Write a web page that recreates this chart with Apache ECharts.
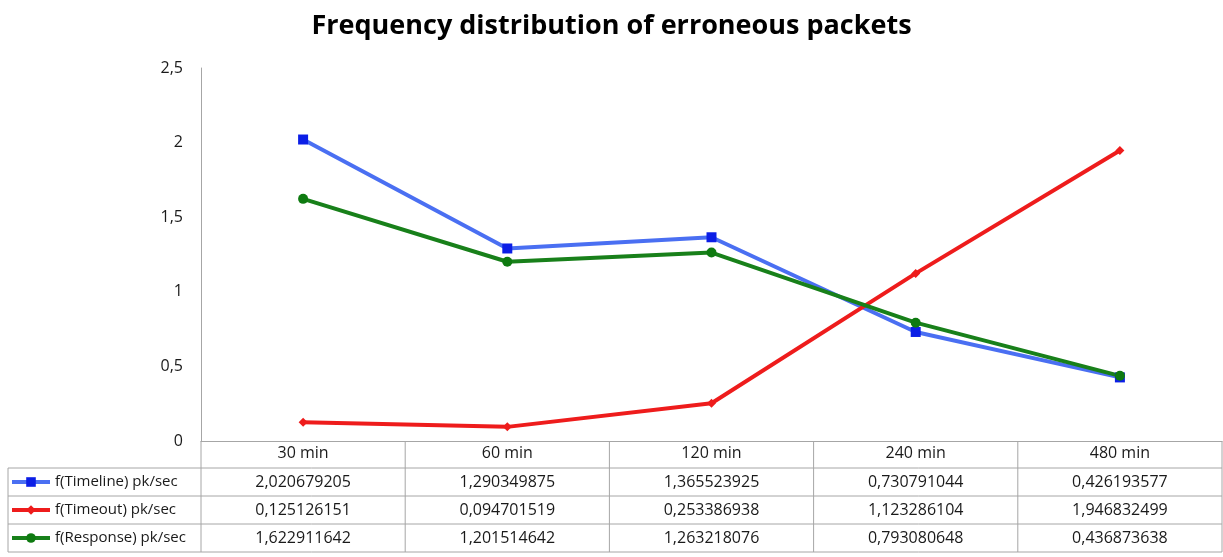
<!DOCTYPE html>
<html>
<head>
<meta charset="utf-8">
<script src="https://cdn.jsdelivr.net/npm/echarts@6/dist/echarts.min.js"></script>
<style>
  html, body { margin: 0; padding: 0; background: #fff; }
  #chart { width: 1223px; height: 557px; }
</style>
</head>
<body>
<div id="chart"></div>
<script>
var categories = ['30 min', '60 min', '120 min', '240 min', '480 min'];
var timeline = [2.020679205, 1.290349875, 1.365523925, 0.730791044, 0.426193577];
var timeout = [0.125126151, 0.094701519, 0.253386938, 1.123286104, 1.946832499];
var response = [1.622911642, 1.201514642, 1.263218076, 0.793080648, 0.436873638];
var seriesNames = ['f(Timeline) pk/sec', 'f(Timeout) pk/sec', 'f(Response) pk/sec'];

// table geometry
var gLeft = 201, gRight = 1222, gTop = 68, gBottom = 441;
var headH = 27, rowH = 28, tableLeft = 8;
var font = '"Open Sans", "Liberation Sans", sans-serif';
var grey = '#a6a6a6';
var fs = 16;

function fmt(v) {
  return String(v).replace('.', ',');
}

var chart = echarts.init(document.getElementById('chart'));

// table borders
var lines = [];
var tableBottom = gBottom + headH + 3 * rowH;
for (var r = 0; r <= 3; r++) {
  var y = gBottom + headH + r * rowH;
  lines.push({ type: 'line', shape: { x1: tableLeft, y1: y, x2: gRight, y2: y }, style: { stroke: grey, lineWidth: 1 } });
}
lines.push({ type: 'line', shape: { x1: tableLeft, y1: gBottom + headH, x2: tableLeft, y2: tableBottom }, style: { stroke: grey, lineWidth: 1 } });
var colW = (gRight - gLeft) / categories.length;
for (var c = 0; c <= categories.length; c++) {
  var x = gLeft + c * colW;
  lines.push({ type: 'line', shape: { x1: x, y1: gBottom, x2: x, y2: tableBottom }, style: { stroke: grey, lineWidth: 1 } });
}

// extra x axes act as the data rows of the table
function rowAxis(values, row) {
  return {
    type: 'category',
    position: 'bottom',
    offset: headH + (row - 0.5) * rowH - 13,
    data: values.map(fmt),
    axisLine: { show: false },
    axisTick: { show: false },
    axisLabel: { interval: 0, color: '#1a1a1a', fontSize: fs, fontFamily: font, margin: 5 }
  };
}

chart.setOption({
  animation: false,
  title: {
    text: 'Frequency distribution of erroneous packets',
    left: 'center',
    top: 8,
    textStyle: { fontSize: 27, fontWeight: 'bold', color: '#000', fontFamily: font }
  },
  legend: {
    orient: 'vertical',
    left: 10,
    top: gBottom + headH + 6,
    height: 90,
    padding: 0,
    itemWidth: 38,
    itemHeight: 12,
    itemGap: 12,
    lineStyle: { width: 4 },
    textStyle: { fontSize: 15, lineHeight: 16, color: '#1a1a1a', fontFamily: font },
    data: seriesNames
  },
  grid: { left: gLeft, right: 1223 - gRight, top: gTop, bottom: 557 - gBottom },
  xAxis: [
    {
      type: 'category',
      data: categories,
      boundaryGap: true,
      axisLine: { lineStyle: { color: grey } },
      axisTick: { show: false },
      axisLabel: { interval: 0, color: '#1a1a1a', fontSize: fs, fontFamily: font, margin: 4 }
    },
    rowAxis(timeline, 1),
    rowAxis(timeout, 2),
    rowAxis(response, 3)
  ],
  yAxis: {
    type: 'value',
    min: 0,
    max: 2.5,
    interval: 0.5,
    axisLine: { show: true, lineStyle: { color: grey } },
    axisTick: { show: false },
    splitLine: { show: false },
    axisLabel: { color: '#1a1a1a', fontSize: fs, fontFamily: font, margin: 18, formatter: fmt }
  },
  series: [
    {
      name: seriesNames[0], type: 'line', data: timeline,
      symbol: 'rect', symbolSize: 10,
      lineStyle: { color: '#4a6ff2', width: 4 },
      itemStyle: { color: '#0b1ee6' }
    },
    {
      name: seriesNames[1], type: 'line', data: timeout,
      symbol: 'diamond', symbolSize: 9,
      lineStyle: { color: '#ee1c1c', width: 4 },
      itemStyle: { color: '#ee1c1c' }
    },
    {
      name: seriesNames[2], type: 'line', data: response,
      symbol: 'circle', symbolSize: 10,
      lineStyle: { color: '#18801a', width: 4 },
      itemStyle: { color: '#0e7a10' }
    }
  ],
  graphic: lines
});
</script>
</body>
</html>
